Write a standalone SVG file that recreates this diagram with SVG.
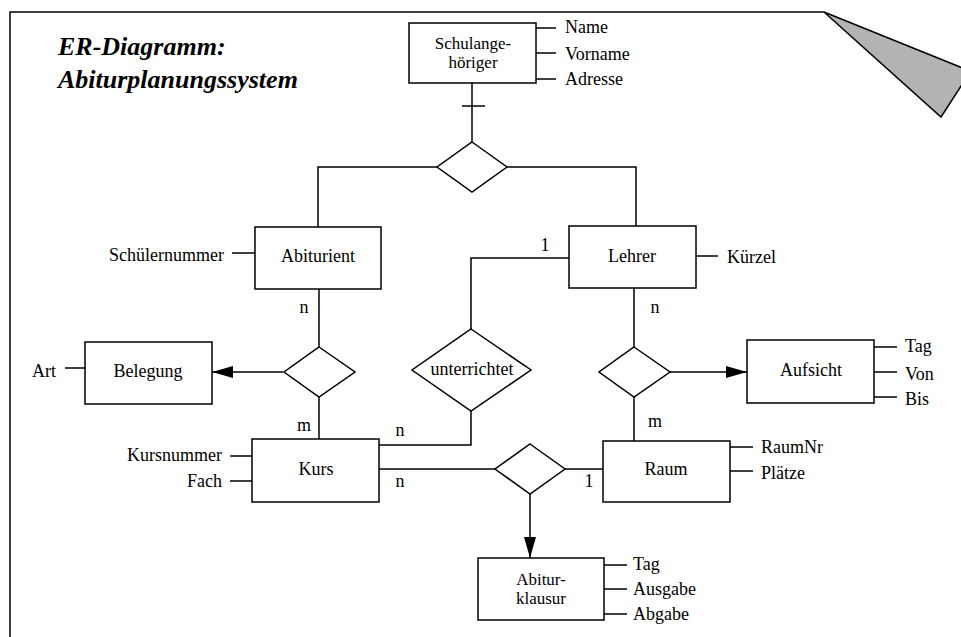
<svg xmlns="http://www.w3.org/2000/svg" width="961" height="637" viewBox="0 0 961 637">
<style>
  .frame { fill: none; stroke: #000; stroke-width: 1.5; }
  .box { fill: #fff; stroke: #000; stroke-width: 1.5; }
  .rel { fill: #fff; stroke: #000; stroke-width: 1.5; }
  .ln { fill: none; stroke: #000; stroke-width: 1.5; }
  text { font-family: "Liberation Serif", "Times New Roman", serif; font-size: 18px; fill: #000; }
  .c { text-anchor: middle; }
  .e { text-anchor: end; }
  .two { font-size: 17px; }
  .title { font-size: 26px; font-weight: bold; font-style: italic; }
</style>
<defs>
  <marker id="arrow" markerUnits="userSpaceOnUse" markerWidth="21" markerHeight="12" viewBox="0 0 21 12" refX="21" refY="6" orient="auto">
    <path d="M0,0 L21,6 L0,12 z" fill="#000"/>
  </marker>
</defs>
<rect width="961" height="637" fill="#fff"/>

<g id="page">
  <polyline class="frame" points="10,637 10,12 824,12"/>
  <polygon points="824,12 970.6,71.2 941,117" fill="#b3b3b3" stroke="#000" stroke-width="1.5" stroke-linejoin="miter"/>
  <text class="title" x="58" y="55">ER-Diagramm:</text>
  <text class="title" x="58" y="88">Abiturplanungssystem</text>
</g>

<g id="connectors">
  <line class="ln" x1="472" y1="83" x2="472" y2="142"/>
  <line class="ln" x1="462" y1="106" x2="485" y2="106"/>
  <polyline class="ln" points="437,167 318,167 318,227"/>
  <polyline class="ln" points="507,167 636,167 636,226"/>
  <line class="ln" x1="319" y1="289" x2="319" y2="347"/>
  <line class="ln" x1="319" y1="397" x2="319" y2="439"/>
  <line class="ln" x1="283" y1="372" x2="212" y2="372" marker-end="url(#arrow)"/>
  <polyline class="ln" points="569,258 471,258 471,329"/>
  <polyline class="ln" points="471,411 471,445 379,445"/>
  <line class="ln" x1="634" y1="288" x2="634" y2="347"/>
  <line class="ln" x1="670" y1="372" x2="747" y2="372" marker-end="url(#arrow)"/>
  <line class="ln" x1="634" y1="397" x2="634" y2="441"/>
  <line class="ln" x1="379" y1="469" x2="495" y2="469"/>
  <line class="ln" x1="565" y1="469" x2="603" y2="469"/>
  <line class="ln" x1="530" y1="494" x2="530" y2="558" marker-end="url(#arrow)"/>
  <text class="c" x="304" y="313">n</text>
  <text class="c" x="304" y="431">m</text>
  <text class="c" x="400" y="436">n</text>
  <text class="c" x="400" y="487">n</text>
  <text class="c" x="545" y="251">1</text>
  <text class="c" x="655" y="313">n</text>
  <text class="c" x="655" y="427">m</text>
  <text class="c" x="589" y="487">1</text>
</g>

<g id="schulangehoeriger">
  <rect class="box" x="409" y="23" width="127" height="60"/>
  <text class="c two" x="473" y="49">Schulange-</text>
  <text class="c two" x="473" y="68">höriger</text>
  <line class="ln" x1="536" y1="28" x2="556" y2="28"/>
  <line class="ln" x1="536" y1="53" x2="556" y2="53"/>
  <line class="ln" x1="536" y1="79" x2="556" y2="79"/>
  <text x="565" y="33">Name</text>
  <text x="565" y="60">Vorname</text>
  <text x="565" y="85">Adresse</text>
</g>

<g id="rel-isa">
  <polygon class="rel" points="472,142 507,167 472,192 437,167"/>
</g>

<g id="abiturient">
  <rect class="box" x="255" y="227" width="126" height="62"/>
  <text class="c" x="318" y="262">Abiturient</text>
  <line class="ln" x1="232" y1="253" x2="255" y2="253"/>
  <text class="e" x="224" y="261">Schülernummer</text>
</g>

<g id="lehrer">
  <rect class="box" x="569" y="226" width="127" height="62"/>
  <text class="c" x="632" y="262">Lehrer</text>
  <line class="ln" x1="696" y1="256" x2="718" y2="256"/>
  <text x="727" y="263">Kürzel</text>
</g>

<g id="rel-belegung">
  <polygon class="rel" points="319,347 355,372 319,397 284,372"/>
</g>

<g id="belegung">
  <rect class="box" x="85" y="342" width="127" height="62"/>
  <text class="c" x="148" y="377">Belegung</text>
  <line class="ln" x1="65" y1="368" x2="85" y2="368"/>
  <text class="e" x="56" y="377">Art</text>
</g>

<g id="rel-unterrichtet">
  <polygon class="rel" points="471,329 531,370 471,411 412,370"/>
  <text class="c" x="472" y="375">unterrichtet</text>
</g>

<g id="rel-aufsicht">
  <polygon class="rel" points="634,347 670,372 634,397 599,372"/>
</g>

<g id="aufsicht">
  <rect class="box" x="747" y="340" width="127" height="63"/>
  <text class="c" x="811" y="376">Aufsicht</text>
  <line class="ln" x1="874" y1="347" x2="897" y2="347"/>
  <line class="ln" x1="874" y1="372" x2="897" y2="372"/>
  <line class="ln" x1="874" y1="397" x2="897" y2="397"/>
  <text x="905" y="352">Tag</text>
  <text x="905" y="380">Von</text>
  <text x="905" y="405">Bis</text>
</g>

<g id="kurs">
  <rect class="box" x="252" y="439" width="127" height="63"/>
  <text class="c" x="316" y="475">Kurs</text>
  <line class="ln" x1="230" y1="456" x2="252" y2="456"/>
  <line class="ln" x1="230" y1="481" x2="252" y2="481"/>
  <text class="e" x="222" y="461">Kursnummer</text>
  <text class="e" x="222" y="487">Fach</text>
</g>

<g id="rel-klausur">
  <polygon class="rel" points="530,444 565,469 530,494 495,469"/>
</g>

<g id="raum">
  <rect class="box" x="603" y="441" width="127" height="61"/>
  <text class="c" x="666" y="475">Raum</text>
  <line class="ln" x1="730" y1="447" x2="753" y2="447"/>
  <line class="ln" x1="730" y1="471" x2="753" y2="471"/>
  <text x="761" y="453">RaumNr</text>
  <text x="761" y="479">Plätze</text>
</g>

<g id="abiturklausur">
  <rect class="box" x="478" y="558" width="126" height="62"/>
  <text class="c two" x="541" y="585">Abitur-</text>
  <text class="c two" x="541" y="604">klausur</text>
  <line class="ln" x1="604" y1="565" x2="627" y2="565"/>
  <line class="ln" x1="604" y1="589" x2="627" y2="589"/>
  <line class="ln" x1="604" y1="614" x2="627" y2="614"/>
  <text x="633" y="570">Tag</text>
  <text x="633" y="595">Ausgabe</text>
  <text x="633" y="620">Abgabe</text>
</g>
</svg>
